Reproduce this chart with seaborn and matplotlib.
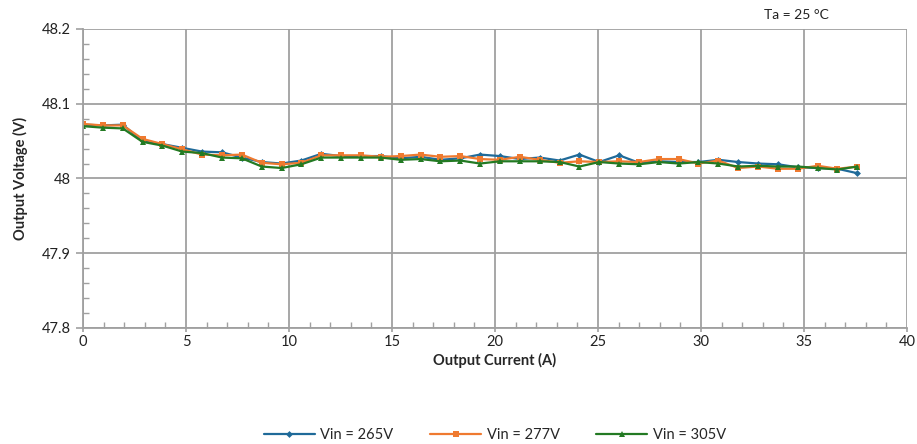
import numpy as np
import pandas as pd
import matplotlib
matplotlib.use("Agg")
import matplotlib.pyplot as plt
from matplotlib.ticker import MultipleLocator, FuncFormatter
import seaborn as sns

# Output current (A) at each measured load step
current = [0.00, 0.96, 1.93, 2.89, 3.86, 4.82, 5.78, 6.75, 7.71, 8.68,
           9.64, 10.60, 11.57, 12.53, 13.50, 14.46, 15.42, 16.39, 17.35, 18.32,
           19.28, 20.24, 21.21, 22.17, 23.14, 24.10, 25.06, 26.03, 26.99, 27.96,
           28.92, 29.88, 30.85, 31.81, 32.78, 33.74, 34.70, 35.67, 36.63, 37.60]

# Output voltage (V) for each input voltage
v_265 = [48.072, 48.071, 48.072, 48.050, 48.046, 48.041, 48.036, 48.035, 48.028, 48.022,
         48.020, 48.024, 48.033, 48.030, 48.030, 48.030, 48.027, 48.029, 48.025, 48.027,
         48.032, 48.030, 48.026, 48.028, 48.024, 48.032, 48.022, 48.031, 48.021, 48.023,
         48.022, 48.022, 48.025, 48.022, 48.020, 48.019, 48.015, 48.014, 48.013, 48.007]
v_277 = [48.073, 48.071, 48.071, 48.053, 48.046, 48.039, 48.032, 48.031, 48.032, 48.021,
         48.019, 48.021, 48.031, 48.031, 48.031, 48.029, 48.030, 48.032, 48.029, 48.030,
         48.026, 48.025, 48.029, 48.025, 48.021, 48.023, 48.022, 48.023, 48.022, 48.026,
         48.026, 48.020, 48.024, 48.014, 48.016, 48.013, 48.013, 48.017, 48.013, 48.016]
v_305 = [48.070, 48.068, 48.067, 48.049, 48.044, 48.036, 48.034, 48.028, 48.027, 48.016,
         48.014, 48.019, 48.028, 48.028, 48.028, 48.028, 48.025, 48.026, 48.023, 48.024,
         48.020, 48.023, 48.023, 48.023, 48.022, 48.016, 48.022, 48.020, 48.019, 48.022,
         48.020, 48.022, 48.020, 48.016, 48.017, 48.016, 48.016, 48.014, 48.012, 48.016]

series_labels = ["Vin = 265V", "Vin = 277V", "Vin = 305V"]
colors = ["#1f6a99", "#ef7a30", "#237a23"]
markers = ["D", "s", "^"]
marker_sizes = [3.5, 5, 5]

df = pd.concat([
    pd.DataFrame({"current": current, "voltage": v, "series": lab})
    for v, lab in zip([v_265, v_277, v_305], series_labels)
])

sns.set_theme(style="white")
plt.rcParams["font.family"] = ["Lato", "DejaVu Sans"]

fig = plt.figure(figsize=(9.17, 4.44), dpi=100)
ax = fig.add_axes([0.0905, 0.2613, 0.8985, 0.6734])

for lab, col, mk, ms in zip(series_labels, colors, markers, marker_sizes):
    sub = df[df["series"] == lab]
    sns.lineplot(data=sub, x="current", y="voltage", ax=ax, color=col,
                 marker=mk, markersize=ms, markeredgewidth=0, linewidth=1.6,
                 label=lab, sort=False)

ax.set_xlim(0, 40)
ax.set_ylim(47.8, 48.2)
ax.xaxis.set_major_locator(MultipleLocator(5))
ax.xaxis.set_minor_locator(MultipleLocator(1))
ax.yaxis.set_major_locator(MultipleLocator(0.1))
ax.yaxis.set_minor_locator(MultipleLocator(0.02))
ax.yaxis.set_major_formatter(FuncFormatter(lambda v, p: f"{v:g}"))

grid_col = "#a0a0a0"
ax.grid(True, which="major", color=grid_col, linewidth=1.3)
ax.set_axisbelow(True)
for side in ["top", "right"]:
    ax.spines[side].set_visible(False)
for side in ["left", "bottom"]:
    ax.spines[side].set_color(grid_col)
    ax.spines[side].set_linewidth(1.3)

ax.tick_params(which="major", direction="out", length=5, width=1.2, color=grid_col,
               labelsize=10.5, labelcolor="#222222", left=True, bottom=True)
ax.tick_params(axis="x", which="major", length=3, pad=2)
ax.tick_params(which="minor", direction="in", length=4, width=1.0, color=grid_col,
               left=True, bottom=True)

ax.set_xlabel("Output Current (A)", fontsize=10.5, fontweight="bold", labelpad=3)
ax.set_ylabel("Output Voltage (V)", fontsize=10.5, fontweight="bold", labelpad=10)

fig.text(0.869, 0.966, "Ta = 25 °C", ha="center", va="center", fontsize=10, color="#222222")

ax.legend(loc="upper center", bbox_to_anchor=(0.5, -0.29), ncol=3, frameon=False,
          fontsize=10.5, handlelength=3.5, columnspacing=2.5, handletextpad=0.4)

fig.savefig("out.png", dpi=100)
